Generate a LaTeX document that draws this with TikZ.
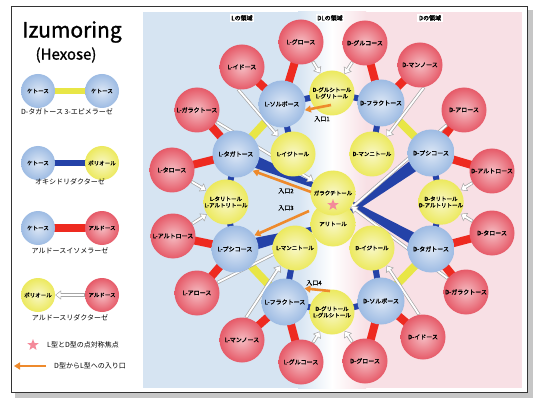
\documentclass[tikz,border=0pt]{standalone}
\usepackage{fontspec}
\setmainfont{Noto Sans CJK JP}
\newfontfamily\labelfont{Noto Sans CJK JP}[FakeBold=1.6]
\newfontfamily\titlefont{Noto Sans CJK JP}[FakeBold=1.2]
\usetikzlibrary{arrows.meta,shapes.geometric,calc,positioning}

\definecolor{aldred}{HTML}{E65A68}
\definecolor{ketblue}{HTML}{9DBBE3}
\definecolor{polyel}{HTML}{ECE95E}
\definecolor{isobar}{HTML}{EE2A20}
\definecolor{epibar}{HTML}{E8E646}
\definecolor{oxbar}{HTML}{2442A8}
\definecolor{lside}{HTML}{D6E4F2}
\definecolor{dside}{HTML}{F8E0E5}
\definecolor{entryor}{HTML}{EE8A2C}
\definecolor{starpink}{HTML}{F48A9A}

\pgfdeclarelayer{panel}
\pgfdeclarelayer{bars}
\pgfsetlayers{panel,bars,main}

\newcommand{\oxwedge}[2]{%
  \fill[oxbar] ($(#1.center)!1.5pt!90:(#2.center)$) -- ($(#2.center)!7pt!-90:(#1.center)$)
    -- ($(#2.center)!7pt!90:(#1.center)$) -- ($(#1.center)!1.5pt!-90:(#2.center)$) -- cycle;}

\begin{document}
\begin{tikzpicture}[x=1pt,y=-1pt,
    sugar/.style={circle, inner sep=0pt, align=center, text=black, font=\labelfont\fontsize{6}{6.6}\selectfont},
    aldose/.style={sugar, minimum size=45pt, inner color=aldred!40!white, outer color=aldred},
    ketose/.style={sugar, minimum size=47pt, inner color=ketblue!35!white, outer color=ketblue},
    polyol/.style={sugar, minimum size=45pt, font=\labelfont\fontsize{5.5}{6.4}\selectfont, inner color=polyel!35!white, outer color=polyel},
    keyball/.style={minimum size=34pt, font=\labelfont\fontsize{5.5}{6}\selectfont},
    iso/.style={isobar, line width=8pt},
    epi/.style={epibar, line width=8pt},
    oxr/.style={oxbar, line width=6pt},
    redu/.style={draw=gray!70, line width=3.2pt, -{Triangle[length=6pt,width=9pt]},
      postaction={draw=white, line width=1.8pt, -{Triangle[length=4.4pt,width=6.4pt]}, shorten >=1pt, shorten <=0.6pt}},
    entry/.style={entryor, line width=2.6pt, -{Triangle[length=6pt,width=7pt]}},
    region/.style={fill=white, inner sep=1.5pt, font=\labelfont\fontsize{6}{6}\selectfont},
    entrytext/.style={inner sep=0pt, font=\labelfont\fontsize{6}{6}\selectfont},
    keytext/.style={inner sep=0pt, font=\fontsize{7}{7}\selectfont},
    symm/.style={star, star points=5, star point ratio=2.4, fill=starpink, inner sep=0pt, minimum size=12pt}
  ]
  \useasboundingbox (0,0) rectangle (537,403);

  \begin{pgfonlayer}{panel}
    \fill[white] (0,0) rectangle (537,403);
    \fill[gray!45] (527,10) rectangle (533,398);
    \fill[gray!45] (15,392) rectangle (533,398);
    \draw[black!80, line width=0.8pt, fill=white] (11,6) rectangle (527,392);
    \fill[lside] (143,12) rectangle (298,388);
    \shade[left color=lside, right color=white] (298,12) rectangle (332,388);
    \shade[left color=white, right color=dside] (332,12) rectangle (366,388);
    \fill[dside] (366,12) rectangle (522,388);
  \end{pgfonlayer}

  % legend
  \node[font=\titlefont\fontsize{21}{21}\selectfont] (title) at (72,32) {Izumoring};
  \node[font=\titlefont\fontsize{15}{15}\selectfont] (subtitle) at (66,55) {(Hexose)};

  \node[ketose, keyball] (k1a) at (38,91) {ケトース};
  \node[ketose, keyball] (k1b) at (102,91) {ケトース};
  \node[keytext] (t1) at (67,112) {D-タガトース 3-エピメラーゼ};
  \node[ketose, keyball] (k2) at (38,163) {ケトース};
  \node[polyol, keyball] (p2) at (102,163) {ポリオール};
  \node[keytext] (t2) at (70,182) {オキシドリダクターゼ};
  \node[ketose, keyball] (k3) at (38,228) {ケトース};
  \node[aldose, keyball] (a3) at (102,228) {アルドース};
  \node[keytext] (t3) at (70,251) {アルドースイソメラーゼ};
  \node[polyol, keyball] (p4) at (38,295) {ポリオール};
  \node[aldose, keyball] (a4) at (102,295) {アルドース};
  \node[keytext] (t4) at (70,318) {アルドースリダクターゼ};
  \node[symm] (symkey) at (33,345) {};
  \node[keytext, anchor=west] (symtext) at (47,345) {L型とD型の点対称焦点};
  \coordinate (entkeya) at (46,366);
  \coordinate (entkeyb) at (14,366);
  \node[keytext, anchor=west] (enttext) at (54,366) {D型からL型への入り口};

  % sugars
  \node[aldose] (lgul) at (301,42) {L-グロース};
  \node[aldose] (dglc) at (365,43) {D-グルコース};
  \node[aldose] (lido) at (242,67) {L-イドース};
  \node[aldose] (dman) at (420,65) {D-マンノース};
  \node[aldose] (lgal) at (197,110) {L-ガラクトース};
  \node[aldose] (dall) at (464,110) {D-アロース};
  \node[aldose] (ltal) at (172,170) {L-タロース};
  \node[aldose] (dalt) at (492,171) {D-アルトロース};
  \node[aldose] (lalt) at (173,236) {L-アルトロース};
  \node[aldose] (dtalo) at (492,233) {D-タロース};
  \node[aldose] (lall) at (197,293) {L-アロース};
  \node[aldose] (dgal) at (466,292) {D-ガラクトース};
  \node[aldose] (lman) at (242,340) {L-マンノース};
  \node[aldose] (dido) at (423,337) {D-イドース};
  \node[aldose] (lglc) at (301,362) {L-グルコース};
  \node[aldose] (dgul) at (365,361) {D-グロース};

  \node[ketose] (lsor) at (282,104) {L-ソルボース};
  \node[ketose] (dfru) at (381,103) {D-フラクトース};
  \node[ketose] (ltag) at (236,154) {L-タガトース};
  \node[ketose] (dpsi) at (431,153) {D-プシコース};
  \node[ketose] (lpsi) at (235,249) {L-プシコース};
  \node[ketose] (dtag) at (431,249) {D-タガトース};
  \node[ketose] (lfru) at (285,302) {L-フラクトース};
  \node[ketose] (dsor) at (381,301) {D-ソルボース};

  \node[polyol] (glcol) at (332,93) {D-グルシトール\\L-グリトール};
  \node[polyol] (lidol) at (293,154) {L-イジトール};
  \node[polyol] (dmanol) at (372,154) {D-マンニトール};
  \node[polyol] (ltalol) at (226,202) {L-タリトール\\L-アルトリトール};
  \node[polyol] (dtalol) at (441,202) {D-タリトール\\D-アルトリトール};
  \node[polyol] (allol) at (333,224) {アリトール};
  \node[polyol] (galol) at (333,193) {ガラクチトール};
  \node[symm] (center) at (333,205) {};
  \node[polyol] (lmanol) at (295,248) {L-マンニトール};
  \node[polyol] (didol) at (372,248) {D-イジトール};
  \node[polyol] (gulol) at (332,312) {D-グリトール\\L-グルシトール};

  \begin{pgfonlayer}{bars}
    \draw[epi, line width=6pt] (k1a.center) -- (k1b.center);
    \draw[oxr] (k2.center) -- (p2.center);
    \draw[iso] (k3.center) -- (a3.center);
    \foreach \a/\b in {lgul/lsor, lido/lsor, lgal/ltag, ltal/ltag, lalt/lpsi, lall/lpsi, lman/lfru, lglc/lfru,
                       dglc/dfru, dman/dfru, dall/dpsi, dalt/dpsi, dtalo/dtag, dgal/dtag, dido/dsor, dgul/dsor}
      \draw[iso] (\a.center) -- (\b.center);
    \foreach \a/\b in {lsor/ltag, dfru/dpsi, lpsi/lfru, dtag/dsor}
      \draw[epi] (\a.center) -- (\b.center);
    \foreach \a/\b in {lsor/glcol, lsor/lidol, dfru/glcol, dfru/dmanol, ltag/ltalol, lpsi/ltalol,
                       dpsi/dtalol, dtag/dtalol, lfru/lmanol, lfru/gulol, dsor/gulol, dsor/didol}
      \draw[oxr] (\a.center) -- (\b.center);
    \oxwedge{galol}{ltag}
    \oxwedge{galol}{dtag}
    \oxwedge{allol}{lpsi}
    \oxwedge{allol}{dpsi}
    \draw[redu] (a4) -- (p4);
    \foreach \a/\b in {lgul/glcol, dglc/glcol, lgal/galol, dall/allol, ltal/ltalol, lalt/ltalol,
                       dalt/dtalol, dtalo/dtalol, lall/allol, dgal/galol, lglc/gulol, dgul/gulol}
      \draw[redu] (\a) -- (\b);
    \draw[redu] (lido.-100) -- (lidol.130);
    \draw[redu] (dman.-80) -- (dmanol.50);
    \draw[redu] (lman.80) -- (lmanol.-130);
    \draw[redu] (dido.100) -- (didol.-50);
  \end{pgfonlayer}

  \coordinate (in1) at (331,105);
  \coordinate (in2) at (311,192);
  \coordinate (in3) at (309,211);
  \coordinate (in4) at (330,291);
  \draw[entry] (in1) -- (lsor.-15);
  \draw[entry] (in2) -- (ltag.-45);
  \draw[entry] (in3) -- (lpsi.35);
  \draw[entry] (in4) -- (lfru.35);
  \draw[entry] (entkeya) -- (entkeyb);
  \node[entrytext] (ent1) at (322,119) {入口1};
  \node[entrytext] (ent2) at (286,191) {入口2};
  \node[entrytext] (ent3) at (286,208) {入口3};
  \node[entrytext] (ent4) at (314,283) {入口4};

  \node[region] (lreg) at (242,18) {Lの領域};
  \node[region] (dlreg) at (330,18) {DLの領域};
  \node[region] (dreg) at (430,18) {Dの領域};
\end{tikzpicture}
\end{document}
